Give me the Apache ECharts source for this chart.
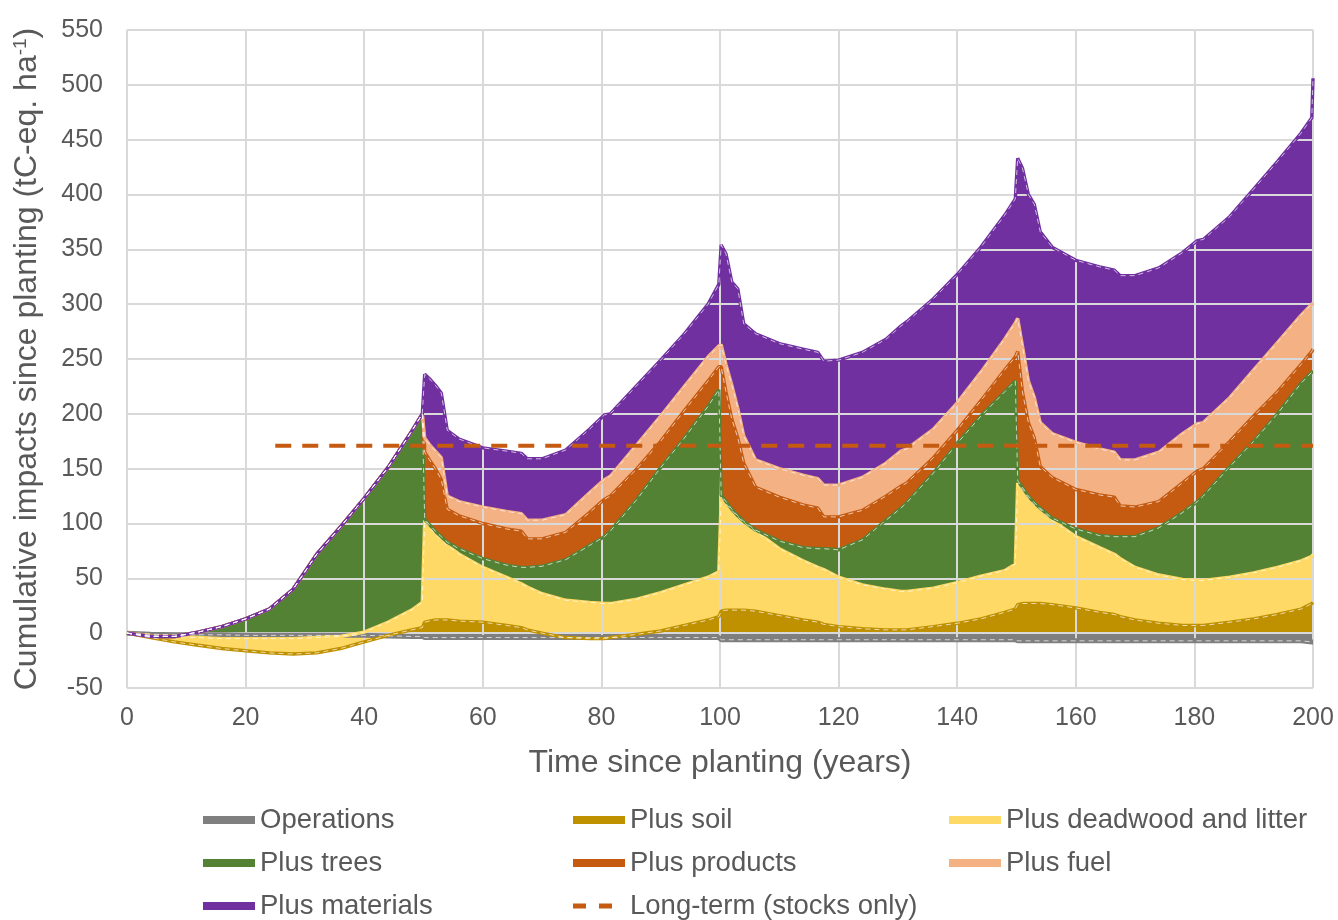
<!DOCTYPE html>
<html><head><meta charset="utf-8">
<script src="https://cdn.jsdelivr.net/npm/echarts@6/dist/echarts.min.js"></script>
<style>html,body{margin:0;padding:0;background:#fff}#c{width:1338px;height:920px}</style>
</head><body><div id="c"></div>
<script>
const years = [0,4,8,12,16,20,24,28,32,36,40,44,48,49.8,
 50.2,51,52,53,54,56,60,64,66.5,67.5,70,74,78,80.5,81.5,86,90,94,98,99.8,
 100.2,101,102,103,104,106,110,114,116.5,117.5,120,124,128,130.5,131.5,136,140,144,148,149.8,
 150.2,151,152,153,154,156,160,164,166.5,167.5,170,174,178,180.5,181.5,186,190,194,198,199.8,200];

const operations = [0,-1,-1.5,-1.5,-1.5,-2,-2,-2,-2,-2,-2,-2.5,-3,-3,
 -4,-4,-4,-4,-4,-4,-4,-4,-4,-4,-4,-4,-4,-4,-4,-4,-4,-4,-4,-4,
 -6,-6,-6,-6,-6,-6,-6,-6,-6,-6,-6,-6,-6,-6,-6,-6,-6,-6,-6,-6,
 -7,-7,-7,-7,-7,-7,-7,-7,-7,-7,-7,-7,-7,-7,-7,-7,-7,-7,-7,-8,-8];
const soil = [0,-4,-8,-11,-14,-16,-18,-19,-18,-14,-8,-2,3,5,
 10,11,12,12,12,11,10,7,5,3,0,-4,-5,-5,-4,-1,2,7,12,15,
 20,21,21,21,21,20,16,12,10,8,6,4,3,3,3,6,9,13,19,22,
 26,27,27,27,27,26,23,19,17,15,12,9,7,7,7,10,13,17,22,27,28];
const deadwood = [0,-2,-3,-4,-5,-5,-5,-5,-4,-3,1,10,21,28,
 103,97,90,85,80,72,60,51,45,42,36,30,28,27,27,31,37,44,51,56,
 124,118,112,106,101,93,77,66,60,58,51,44,40,38,38,41,46,52,57,63,
 137,131,123,117,113,103,88,78,72,68,60,53,49,48,48,51,55,60,66,70,72];
const trees = [0,-3,-3,1,6,13,22,40,72,97,123,151,184,200,
 104,99,93,88,83,77,68,62,60,60,61,67,80,88,93,122,151,178,207,222,
 126,120,113,107,102,94,84,78,77,77,76,85,103,114,119,146,173,198,220,230,
 139,133,125,119,114,105,95,89,88,88,88,96,110,120,125,152,175,200,228,238,238];
const products = [0,-3,-3,1,6,13,22,40,72,97,123,151,184,200,
 165,158,150,140,113,107,100,95,93,86,86,92,110,122,125,150,175,203,230,243,
 243,220,195,178,155,133,124,117,114,106,106,112,125,134,137,160,185,212,240,252,
 257,220,192,178,152,142,131,126,124,116,115,120,137,148,150,175,198,220,245,257,259];
const fuel = [0,-3,-3,1,6,13,22,40,72,97,123,151,184,200,
 178,172,166,160,125,120,115,111,109,103,103,108,128,140,143,172,198,225,252,262,
 263,245,226,205,180,158,150,144,141,135,135,142,155,166,168,186,210,238,268,283,
 287,262,230,215,192,182,174,168,165,158,158,165,182,191,192,215,240,265,290,300,301];
const materials = [0,-3,-3,1,6,13,22,40,72,97,123,151,184,200,
 236,232,226,219,185,177,169,166,164,159,159,167,186,199,200,226,249,273,300,318,
 354,346,320,314,282,273,264,259,256,248,249,256,268,280,284,305,327,352,381,396,
 433,424,400,391,366,352,340,334,331,326,326,333,347,358,359,380,405,430,456,470,506];

const longTermYears = [25, 200];
const longTermValues = [171, 171];

const names = ['Operations','Plus soil','Plus deadwood and litter','Plus trees','Plus products','Plus fuel','Plus materials'];
const longTermName = 'Long-term (stocks only)';
const xTicks = {min: 0, max: 200, interval: 20};
const yTicks = {min: -50, max: 550, interval: 50};

const colors = ['#7F7F7F','#BF9000','#FFD966','#548235','#C55A11','#F4B183','#7030A0'];
const cum = [operations, soil, deadwood, trees, products, fuel, materials];
const FONT = 'Liberation Sans, Arial, sans-serif';
const TXT = '#595959';

const series = [];
cum.forEach((upper, i) => {
  const lower = i === 0 ? null : cum[i - 1];
  series.push({
    name: names[i], type: 'custom', coordinateSystem: 'cartesian2d',
    itemStyle: {color: colors[i]},
    encode: {x: 0, y: 1},
    data: years.map((yr, k) => [yr, upper[k], lower ? lower[k] : 0]),
    z: i === 0 ? 3 : 2, silent: true, animation: false,
    renderItem: function (params, api) {
      if (params.dataIndexInside !== 0) return null;
      const n = params.dataInsideLength;
      const pts = [];
      for (let k = 0; k < n; k++) pts.push(api.coord([api.value(0, k), api.value(1, k)]));
      for (let k = n - 1; k >= 0; k--) pts.push(api.coord([api.value(0, k), api.value(2, k)]));
      return {type: 'polygon', shape: {points: pts}, style: {fill: colors[i]}};
    }
  });
});
cum.forEach((arr, i) => {
  series.push({
    name: names[i] + ' line', type: 'line', data: years.map((yr, k) => [yr, arr[k]]),
    showSymbol: false, symbol: 'none', silent: true, animation: false, z: 5,
    lineStyle: {color: colors[i], width: i === 0 ? 5 : 3.4}
  });
  series.push({
    name: names[i] + ' hl', type: 'line', data: years.map((yr, k) => [yr, arr[k]]),
    showSymbol: false, symbol: 'none', silent: true, animation: false, z: 6,
    lineStyle: {color: '#ffffff', width: 0.8, type: [5, 4], opacity: 0.85}
  });
});
series.push({
  name: longTermName, type: 'line', data: longTermYears.map((yr, k) => [yr, longTermValues[k]]),
  showSymbol: false, symbol: 'none', animation: false, z: 8,
  itemStyle: {color: '#C55A11'},
  lineStyle: {color: '#C55A11', width: 4, type: [16, 11]}
});

const legendCols = [198, 568, 944];
const legendRows = [801, 844, 887];
const legendOrder = [...names, longTermName];
const legends = legendOrder.map((nm, idx) => ({
  data: [nm], left: legendCols[idx % 3], top: legendRows[Math.floor(idx / 3)],
  orient: 'horizontal', itemWidth: 52, itemHeight: 8, itemGap: 0,
  icon: nm === longTermName ? 'path://M0,0h13v5h-13zM26,0h13v5h-13zM52,0h0.01v5h-0.01z' : 'rect',
  itemStyle: {borderWidth: 0},
  textStyle: {fontSize: 27.5, color: TXT, fontFamily: FONT},
  selectedMode: false
}));

const chart = echarts.init(document.getElementById('c'), null, {renderer: 'canvas'});
chart.setOption({
  animation: false,
  backgroundColor: '#ffffff',
  textStyle: {fontFamily: FONT},
  grid: {left: 127, right: 25, top: 30, bottom: 232, containLabel: false},
  legend: legends,
  xAxis: {
    type: 'value', min: xTicks.min, max: xTicks.max, interval: xTicks.interval, z: 4,
    name: 'Time since planting (years)', nameLocation: 'middle', nameGap: 59,
    nameTextStyle: {fontSize: 32, color: TXT, fontFamily: FONT},
    axisLine: {show: false}, axisTick: {show: false},
    axisLabel: {fontSize: 25, color: TXT, margin: 18, fontFamily: FONT},
    splitLine: {show: true, lineStyle: {color: '#D9D9D9', width: 2}}
  },
  yAxis: {
    type: 'value', min: yTicks.min, max: yTicks.max, interval: yTicks.interval, z: 4,
    name: 'Cumulative impacts since planting (tC-eq. ha{sup|-1})', nameLocation: 'middle', nameGap: 83, nameRotate: 90,
    nameTextStyle: {fontSize: 32, color: TXT, fontFamily: FONT,
      rich: {sup: {fontSize: 19, color: TXT, fontFamily: FONT, verticalAlign: 'top', padding: [0, 0, 14, 0]}}},
    axisLine: {show: false}, axisTick: {show: false},
    axisLabel: {fontSize: 25, color: TXT, margin: 24, fontFamily: FONT},
    splitLine: {show: true, lineStyle: {color: '#D9D9D9', width: 2}}
  },
  series: series
});
</script>
</body></html>
